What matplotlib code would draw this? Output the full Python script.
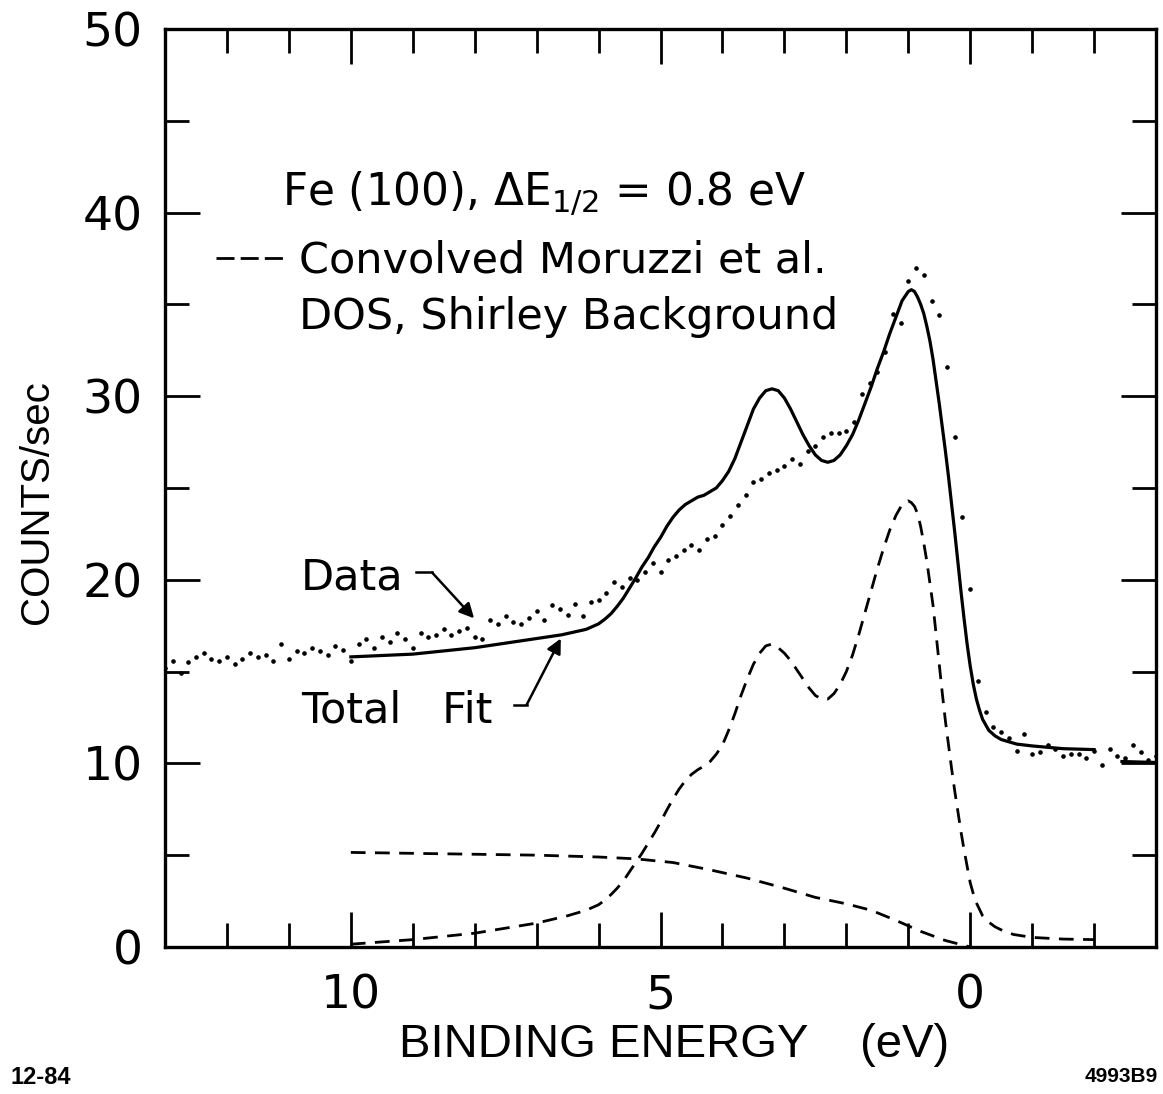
import numpy as np
import matplotlib.pyplot as plt
from matplotlib.ticker import MultipleLocator

# measured spectrum, read every 0.125 eV from 13 eV down to -3 eV
data_counts = [
    15.2, 15.6, 14.9, 15.5, 15.8, 16.0, 15.7, 15.6,
    15.8, 15.4, 15.7, 16.0, 15.8, 15.9, 15.6, 16.5,
    15.7, 16.1, 16.0, 16.3, 16.1, 15.9, 16.4, 16.2,
    15.6, 16.5, 16.8, 16.3, 16.9, 16.6, 17.1, 16.8,
    16.3, 17.1, 16.9, 17.0, 17.3, 17.0, 17.2, 17.4,
    16.9, 16.8, 17.8, 17.6, 18.0, 17.7, 17.6, 17.9,
    18.3, 17.8, 18.6, 18.4, 18.1, 18.7, 18.0, 18.8,
    18.9, 19.3, 19.9, 19.6, 20.1, 20.0, 20.4, 20.9,
    20.4, 21.1, 21.3, 21.6, 21.9, 21.6, 22.2, 22.4,
    23.0, 23.5, 24.1, 24.6, 25.3, 25.5, 25.8, 26.0,
    26.2, 26.6, 26.3, 27.0, 27.3, 27.8, 28.0, 28.0,
    28.1, 28.6, 30.1, 30.7, 31.3, 32.4, 34.5, 34.0,
    36.3, 37.0, 36.6, 35.2, 34.4, 31.6, 27.8, 23.4,
    19.5, 14.5, 12.8, 12.0, 11.7, 11.4, 10.7, 11.6,
    10.5, 10.6, 11.0, 10.8, 10.4, 10.5, 10.5, 10.3,
    10.7, 9.9, 10.8, 10.4, 10.3, 11.0, 10.6, 10.2,
    10.4,
]
data_energy = np.linspace(13.0, -3.0, len(data_counts))

# total fit (solid)
fit_energy = [10.0, 9.0, 8.0, 7.0, 6.6, 6.4, 6.2, 6.0, 5.9, 5.8, 5.7, 5.6,
              5.5, 5.4, 5.3, 5.2, 5.1, 5.0, 4.9, 4.8, 4.7, 4.6, 4.5, 4.4,
              4.3, 4.2, 4.1, 4.0, 3.9, 3.8, 3.7, 3.6, 3.5, 3.4, 3.3, 3.2,
              3.1, 3.0, 2.9, 2.8, 2.7, 2.6, 2.5, 2.4, 2.3, 2.2, 2.1, 2.0,
              1.9, 1.8, 1.7, 1.6, 1.5, 1.4, 1.3, 1.2, 1.1, 1.0, 0.95, 0.9,
              0.85, 0.8, 0.75, 0.7, 0.65, 0.6, 0.55, 0.5, 0.45, 0.4, 0.35,
              0.3, 0.25, 0.2, 0.15, 0.1, 0.05, 0.0, -0.05, -0.1, -0.15, -0.2,
              -0.3, -0.4, -0.5, -0.75, -1.0, -1.5, -2.0]
fit_counts = [15.8, 15.95, 16.3, 16.8, 17.0, 17.15, 17.3, 17.6, 17.85, 18.15,
              18.55, 19.0, 19.55, 20.1, 20.7, 21.2, 21.8, 22.3, 22.9, 23.4,
              23.8, 24.1, 24.3, 24.5, 24.6, 24.8, 25.0, 25.4, 25.9, 26.6,
              27.5, 28.4, 29.3, 29.9, 30.3, 30.4, 30.3, 29.9, 29.3, 28.6,
              27.9, 27.3, 26.8, 26.5, 26.4, 26.5, 26.8, 27.3, 27.9, 28.7,
              29.6, 30.5, 31.5, 32.4, 33.4, 34.3, 35.2, 35.7, 35.8, 35.7,
              35.4, 35.0, 34.5, 33.8, 33.0, 32.0, 30.8, 29.6, 28.3, 27.0,
              25.6, 24.1, 22.6, 21.0, 19.4, 17.9, 16.5, 15.3, 14.3, 13.5,
              12.9, 12.4, 11.8, 11.5, 11.3, 11.05, 10.95, 10.8, 10.75]
fit_tail_energy = [-2.45, -3.0]
fit_tail_counts = [10.1, 10.05]

# convolved Moruzzi et al. DOS (dashed)
dos_energy = [10.0, 9.0, 8.0, 7.0, 6.5, 6.2, 6.0, 5.9, 5.8, 5.7, 5.6, 5.5,
              5.4, 5.3, 5.2, 5.1, 5.0, 4.9, 4.8, 4.7, 4.6, 4.5, 4.4, 4.3,
              4.2, 4.1, 4.0, 3.9, 3.8, 3.7, 3.6, 3.5, 3.4, 3.3, 3.2, 3.1,
              3.0, 2.9, 2.8, 2.7, 2.6, 2.5, 2.4, 2.3, 2.2, 2.1, 2.0, 1.9,
              1.8, 1.7, 1.6, 1.5, 1.4, 1.3, 1.2, 1.1, 1.0, 0.95, 0.9, 0.85,
              0.8, 0.75, 0.7, 0.65, 0.6, 0.55, 0.5, 0.45, 0.4, 0.35, 0.3,
              0.25, 0.2, 0.15, 0.1, 0.05, 0.0, -0.05, -0.1, -0.2, -0.3, -0.4,
              -0.55, -0.7, -1.0, -1.5, -2.0]
dos_counts = [0.15, 0.4, 0.75, 1.3, 1.7, 2.0, 2.3, 2.55, 2.85, 3.2, 3.6, 4.1,
              4.6, 5.1, 5.65, 6.2, 6.8, 7.45, 8.05, 8.6, 9.05, 9.4, 9.65,
              9.85, 10.1, 10.5, 11.0, 11.8, 12.7, 13.7, 14.6, 15.4, 16.0,
              16.4, 16.5, 16.3, 16.0, 15.6, 15.1, 14.6, 14.1, 13.7, 13.5,
              13.5, 13.8, 14.3, 15.0, 15.9, 17.0, 18.2, 19.4, 20.6, 21.7,
              22.7, 23.5, 24.1, 24.3, 24.2, 24.0, 23.6, 22.9, 22.0, 21.0,
              19.8, 18.6, 17.0, 15.4, 13.8, 12.3, 11.0, 9.7, 8.5, 7.4, 6.3,
              5.3, 4.4, 3.5, 2.9, 2.4, 1.7, 1.35, 1.1, 0.85, 0.68, 0.52,
              0.43, 0.4]

# Shirley background (dashed)
bg_energy = [10.0, 9.0, 8.0, 7.0, 6.0, 5.4, 4.8, 4.2, 3.6, 3.0, 2.5, 2.0,
             1.6, 1.2, 0.8, 0.4, 0.0]
bg_counts = [5.15, 5.1, 5.05, 5.0, 4.9, 4.8, 4.6, 4.2, 3.75, 3.2, 2.7, 2.35,
             2.0, 1.45, 0.85, 0.35, 0.0]

x_ticks = [10, 5, 0]
y_ticks = [0, 10, 20, 30, 40, 50]

label_font = ['DejaVu Sans']
caption_font = ['Liberation Sans']

fig = plt.figure(figsize=(11.63, 10.94), dpi=100)
ax = fig.add_axes([0.1419, 0.1344, 0.8521, 0.8391])

dash = (5.3, 3.4)
ax.plot(data_energy, data_counts, linestyle='none', marker='o',
        markersize=2.3, color='black')
ax.plot(fit_energy, fit_counts, color='black', lw=2.3)
ax.plot(fit_tail_energy, fit_tail_counts, color='black', lw=2.3)
ax.plot(dos_energy, dos_counts, color='black', lw=2.0, dashes=dash)
ax.plot(bg_energy, bg_counts, color='black', lw=2.0, dashes=dash)

ax.set_xlim(13, -3)
ax.set_ylim(0, 50)

ax.set_xticks(x_ticks)
ax.set_yticks(y_ticks)
ax.xaxis.set_minor_locator(MultipleLocator(1))
ax.yaxis.set_minor_locator(MultipleLocator(5))
ax.tick_params(which='both', direction='in', top=True, right=True,
               width=2.0, color='black')
ax.tick_params(which='major', length=25)
ax.tick_params(which='minor', length=17)
ax.tick_params(axis='x', which='major', pad=19)
ax.tick_params(axis='y', which='major', pad=16)
for lab in ax.get_xticklabels() + ax.get_yticklabels():
    lab.set_fontsize(34)
    lab.set_family(label_font)
for sp in ax.spines.values():
    sp.set_linewidth(2.4)

# annotations
ax.text(11.11, 41.0, r'Fe (100), $\Delta$E$_{1/2}$ = 0.8 eV', fontsize=31.5,
        family=label_font, va='center', ha='left')
ax.plot([12.18, 11.1], [37.5, 37.5], color='black', lw=2.0, dashes=(6.5, 2.2))
ax.text(10.84, 37.4, 'Convolved Moruzzi et al.', fontsize=31,
        family=label_font, va='center', ha='left')
ax.text(10.84, 34.3, 'DOS, Shirley Background', fontsize=31,
        family=label_font, va='center', ha='left')

ax.text(10.81, 20.15, 'Data', fontsize=31, family=label_font,
        va='center', ha='left')
ax.plot([8.95, 8.69], [20.4, 20.4], color='black', lw=1.8)
ax.annotate('', xy=(8.01, 17.9), xytext=(8.69, 20.4),
            arrowprops=dict(arrowstyle='-|>', color='black', lw=1.8,
                            mutation_scale=22, shrinkA=0, shrinkB=0))

ax.text(10.81, 12.9, 'Total   Fit', fontsize=31, family=label_font,
        va='center', ha='left')
ax.plot([7.37, 7.16], [13.2, 13.2], color='black', lw=1.8)
ax.annotate('', xy=(6.61, 16.8), xytext=(7.16, 13.2),
            arrowprops=dict(arrowstyle='-|>', color='black', lw=1.8,
                            mutation_scale=22, shrinkA=0, shrinkB=0))

fig.text(37 / 1163, 1 - 502 / 1094, 'COUNTS/sec', rotation=90, fontsize=29,
         family=caption_font, ha='center', va='center')
fig.text(674 / 1163, 1 - 1045 / 1094, 'BINDING ENERGY    (eV)', fontsize=34,
         family=caption_font, ha='center', va='center')
fig.text(10 / 1163, 1 - 1077 / 1094, '12-84', fontsize=17, weight='bold',
         family=caption_font, ha='left', va='center')
fig.text(1158 / 1163, 1 - 1077 / 1094, '4993B9', fontsize=15, weight='bold',
         family=caption_font, ha='right', va='center')

fig.savefig('out.png', dpi=100)
